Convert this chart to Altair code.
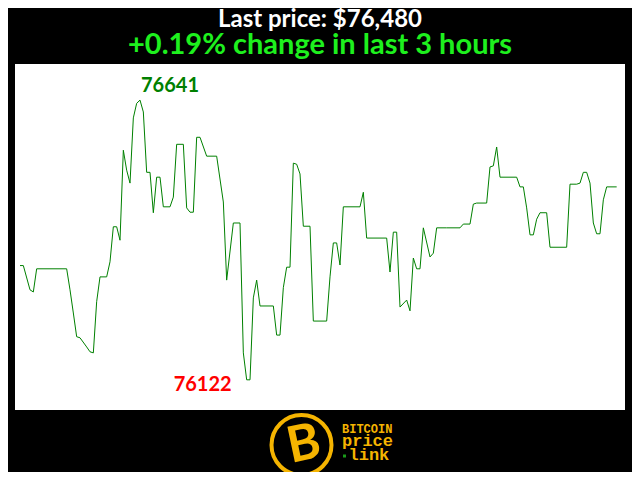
import altair as alt
import pandas as pd

# ---- data (minute index within the 3-hour window, price) ----
minutes = [0, 1, 3, 4, 5, 14, 15, 16, 17, 18, 20, 21, 22, 23, 24, 26, 27, 28, 29, 30,
           31, 32, 33, 34, 35, 36, 37, 38, 39, 40, 41, 42, 43, 45, 46, 47, 49, 50, 51, 52,
           53, 54, 56, 59, 61, 62, 64, 66, 67, 68, 69, 70, 71, 72, 76, 77, 78, 79, 80, 81,
           82, 83, 84, 85, 87, 88, 92, 93, 94, 95, 96, 97, 102, 103, 104, 110, 111, 112, 113, 114,
           116, 117, 118, 119, 120, 121, 123, 124, 125, 128, 132, 133, 135, 136, 137, 140, 141, 142, 143, 144,
           149, 150, 151, 152, 153, 154, 155, 156, 158, 159, 164, 165, 167, 168, 169, 170, 171, 172, 173, 174,
           175, 176, 179]
prices = [76334, 76334, 76289, 76285, 76328, 76328, 76289, 76246, 76202, 76200, 76183, 76174, 76172, 76267, 76313, 76313, 76341, 76406, 76406, 76381,
          76548, 76511, 76487, 76608, 76635, 76641, 76619, 76507, 76507, 76432, 76498, 76498, 76443, 76443, 76461, 76559, 76559, 76441, 76433, 76433,
          76572, 76572, 76537, 76537, 76452, 76307, 76413, 76413, 76172, 76122, 76122, 76274, 76307, 76259, 76259, 76205, 76205, 76293, 76331, 76331,
          76524, 76522, 76504, 76407, 76407, 76231, 76231, 76313, 76376, 76376, 76335, 76443, 76443, 76470, 76385, 76385, 76322, 76396, 76396, 76257,
          76270, 76250, 76348, 76328, 76328, 76404, 76350, 76357, 76404, 76404, 76404, 76411, 76411, 76448, 76450, 76450, 76517, 76519, 76554, 76498,
          76498, 76480, 76480, 76441, 76391, 76391, 76420, 76432, 76432, 76368, 76368, 76485, 76485, 76487, 76507, 76507, 76487, 76413, 76393, 76393,
          76456, 76480, 76480]

title_main = "Last price: $76,480"
title_sub = "+0.19% change in last 3 hours"
logo_lines = ["BITCOIN", "price", "link"]

n = min(len(minutes), len(prices))
df = pd.DataFrame({"minute": minutes[:n], "price": prices[:n]})

imax = df["price"].idxmax()
imin = df["price"].idxmin()
df_max = df.loc[[imax]].assign(label=lambda d: d["price"].astype(int).astype(str))
df_min = df.loc[[imin]].assign(label=lambda d: d["price"].astype(int).astype(str))

W, H = 610, 346
xs = alt.Scale(domain=[-1.5, 181.5], nice=False, zero=False)
ys = alt.Scale(domain=[76066, 76708], nice=False, zero=False)

base = alt.Chart(df)
line = base.mark_line(color="#008000", strokeWidth=1).encode(
    x=alt.X("minute:Q", scale=xs, axis=None),
    y=alt.Y("price:Q", scale=ys, axis=None),
)

max_label = alt.Chart(df_max).mark_text(
    color="#008000", font="Lato", fontWeight="bold", fontSize=20,
    align="left", baseline="alphabetic", dx=1, dy=-8,
).encode(x=alt.X("minute:Q", scale=xs), y=alt.Y("price:Q", scale=ys), text="label:N")

min_label = alt.Chart(df_min).mark_text(
    color="#ff0000", font="Lato", fontWeight="bold", fontSize=20,
    align="right", baseline="alphabetic", dx=-15, dy=11,
).encode(x=alt.X("minute:Q", scale=xs), y=alt.Y("price:Q", scale=ys), text="label:N")

t1 = alt.Chart(pd.DataFrame({"t": [title_main]})).mark_text(
    color="white", font="Lato", fontWeight="bold", fontSize=24, align="center", baseline="alphabetic",
).encode(text="t:N", x=alt.value(W / 2), y=alt.value(-37.5))

t2 = alt.Chart(pd.DataFrame({"t": [title_sub]})).mark_text(
    color="#1ef01e", font="Lato", fontWeight="bold", fontSize=29, align="center", baseline="alphabetic",
).encode(text="t:N", x=alt.value(W / 2), y=alt.value(-10.5))

gold = "#f5b400"
ring = alt.Chart(pd.DataFrame({"k": [1]})).mark_point(
    shape="circle", size=3600, filled=False, stroke=gold, strokeWidth=4, opacity=1,
).encode(x=alt.value(286.5), y=alt.value(381))

bsym = alt.Chart(pd.DataFrame({"t": ["B"]})).mark_text(
    color=gold, font="Lato", fontWeight="bold", fontSize=50, align="center", baseline="middle", angle=348,
).encode(text="t:N", x=alt.value(289), y=alt.value(381))

l1 = alt.Chart(pd.DataFrame({"t": [logo_lines[0]]})).mark_text(
    color=gold, font="Liberation Mono", fontWeight="bold", fontSize=12, align="left", baseline="alphabetic",
).encode(text="t:N", x=alt.value(327), y=alt.value(368.5))

l2 = alt.Chart(pd.DataFrame({"t": [logo_lines[1]]})).mark_text(
    color=gold, font="Liberation Mono", fontWeight="bold", fontSize=17, align="left", baseline="alphabetic",
).encode(text="t:N", x=alt.value(327), y=alt.value(382))

l3 = alt.Chart(pd.DataFrame({"t": [logo_lines[2]]})).mark_text(
    color=gold, font="Liberation Mono", fontWeight="bold", fontSize=17, align="left", baseline="alphabetic",
).encode(text="t:N", x=alt.value(333.5), y=alt.value(396))

dot = alt.Chart(pd.DataFrame({"k": [1]})).mark_point(
    shape="square", size=9, filled=True, color="#1a9a1a", opacity=1,
).encode(x=alt.value(329.5), y=alt.value(392))

chart = alt.layer(line, max_label, min_label, t1, t2, ring, bsym, l1, l2, l3, dot).properties(
    width=W, height=H,
    background="black",
    autosize=alt.AutoSizeParams(type="none"),
    padding={"left": 7, "top": 56, "right": 7, "bottom": 62},
).configure_view(fill="white", stroke=None)

chart.save("out.html", embed_options={"renderer": "svg", "actions": False})
